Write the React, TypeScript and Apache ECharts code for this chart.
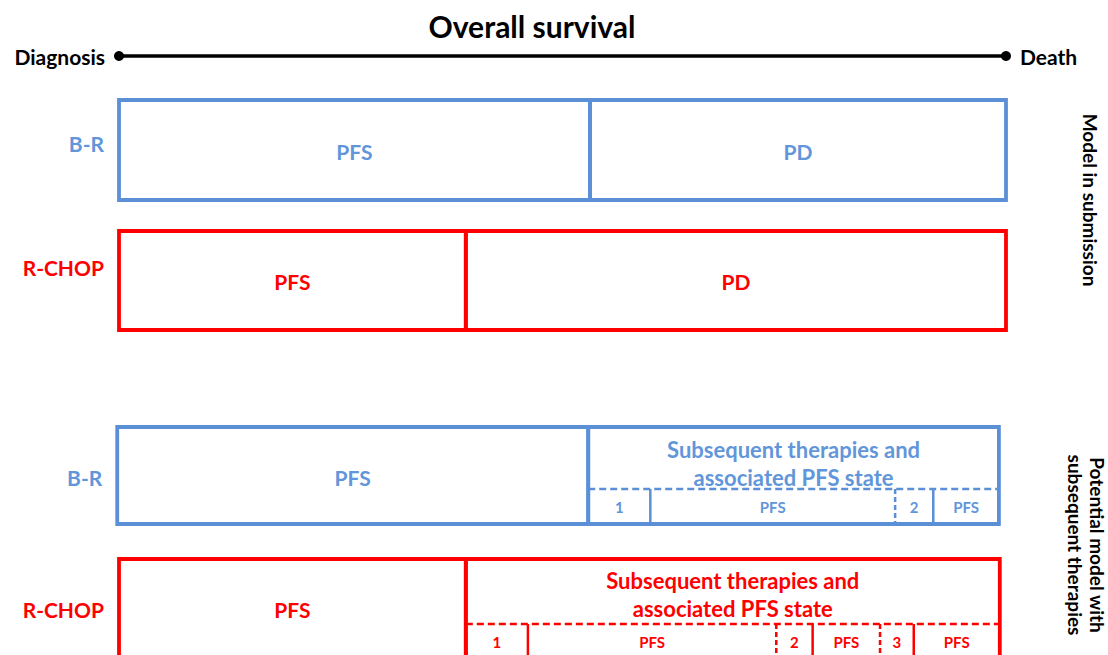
import React, { useEffect, useRef } from "react";
import * as echarts from "echarts";

// ---- data (x = % of overall survival: diagnosis = 0, death = 100) ----
const timelineEnds = [0, 100];
const timelineLabels = ["Diagnosis", "Death"];
const chartTitle = "Overall survival";
const panelTitles = ["Model in submission", "Potential model with\nsubsequent therapies"];

const armNames = ["B-R", "R-CHOP", "B-R", "R-CHOP"];

const modelBRBounds = [0, 53.1, 100];
const modelBRStates = ["PFS", "PD"];
const modelRCHOPBounds = [0, 39.1, 100];
const modelRCHOPStates = ["PFS", "PD"];

const potBRBounds = [-0.2, 52.9, 99.2];
const potBRStates = ["PFS", "Subsequent therapies and\nassociated PFS state"];
const potRCHOPBounds = [0, 39.1, 99.3];
const potRCHOPStates = ["PFS", "Subsequent therapies and\nassociated PFS state"];

const subBRBounds = [52.9, 59.9, 87.5, 91.8, 99.2];
const subBRLabels = ["1", "PFS", "2", "PFS"];
const subBRDividers = ["none", "solid", "dashed", "solid"];
const subRCHOPBounds = [39.1, 46.1, 74.1, 78.2, 85.8, 89.6, 99.3];
const subRCHOPLabels = ["1", "PFS", "2", "PFS", "3", "PFS"];
const subRCHOPDividers = ["none", "solid", "dashed", "solid", "dashed", "solid"];

// ---- styles / layout ----
const BLUE = "#5b8fd6";
const BLUE_TEXT = "#6296da";
const RED = "#ff0000";
const FONT = "Lato, 'Open Sans', sans-serif";

const rows = [
  { top: 100, bottom: 200, color: BLUE, text: BLUE_TEXT, armY: 143, stateY: 151 },
  { top: 231, bottom: 330, color: RED, text: RED, armY: 267, stateY: 281 },
  { top: 427, bottom: 524, color: BLUE, text: BLUE_TEXT, armY: 477, stateY: 477, subTop: 489, subTextY: 463, cellY: 507 },
  { top: 559, bottom: 700, color: RED, text: RED, armY: 609, stateY: 609, subTop: 624, subTextY: 594, cellY: 642 },
];

type Cell = {
  row: number;
  from: number;
  to: number;
  label: string;
  kind: "state" | "sub";
  first?: boolean;
  divider?: string;
};

function buildCells(): Cell[] {
  const cells: Cell[] = [];
  const stateDefs: [number[], string[]][] = [
    [modelBRBounds, modelBRStates],
    [modelRCHOPBounds, modelRCHOPStates],
    [potBRBounds, potBRStates],
    [potRCHOPBounds, potRCHOPStates],
  ];
  stateDefs.forEach(([b, s], row) => {
    s.forEach((label, i) => {
      cells.push({ row, from: b[i], to: b[i + 1], label, kind: "state", first: i === 0 });
    });
  });
  const subDefs: [number, number[], string[], string[]][] = [
    [2, subBRBounds, subBRLabels, subBRDividers],
    [3, subRCHOPBounds, subRCHOPLabels, subRCHOPDividers],
  ];
  subDefs.forEach(([row, b, l, d]) => {
    l.forEach((label, i) => {
      cells.push({ row, from: b[i], to: b[i + 1], label, kind: "sub", divider: d[i] });
    });
  });
  return cells;
}

export default function App() {
  const ref = useRef<HTMLDivElement>(null);
  useEffect(() => {
    document.body.style.margin = "0";
    if (!ref.current) return;
    const chart = echarts.init(ref.current, undefined, { renderer: "svg" });
    const cells = buildCells();

    const renderItem = (params: any, api: any) => {
      const c = cells[params.dataIndex];
      const r: any = rows[c.row];
      const p0 = api.coord([api.value(0), api.value(2)]);
      const p1 = api.coord([api.value(1), api.value(3)]);
      const x0 = p0[0], y0 = p0[1], x1 = p1[0], y1 = p1[1];
      const children: any[] = [];
      if (c.kind === "state") {
        children.push({
          type: "rect",
          shape: { x: x0, y: y0, width: x1 - x0, height: y1 - y0 },
          style: { fill: "none", stroke: r.color, lineWidth: 3.8 },
        });
        const isSubsequent = r.subTop !== undefined && !c.first;
        if (isSubsequent) {
          const ys = api.coord([0, r.subTop])[1];
          children.push({
            type: "line",
            shape: { x1: x0, y1: ys, x2: x1, y2: ys },
            style: { stroke: r.color, lineWidth: 2.5, lineDash: [7, 4] },
          });
          children.push({
            type: "text",
            style: {
              text: c.label, x: (x0 + x1) / 2, y: api.coord([0, r.subTextY])[1],
              fill: r.text, fontSize: 22, fontWeight: "bold", fontFamily: FONT,
              align: "center", verticalAlign: "middle", lineHeight: 28,
            },
          });
        } else {
          children.push({
            type: "text",
            style: {
              text: c.label, x: (x0 + x1) / 2, y: api.coord([0, r.stateY])[1],
              fill: r.text, fontSize: 21, fontWeight: "bold", fontFamily: FONT,
              align: "center", verticalAlign: "middle",
            },
          });
        }
        if (c.first) {
          children.push({
            type: "text",
            style: {
              text: armNames[c.row], x: x0 - 15, y: api.coord([0, r.armY])[1],
              fill: r.text, fontSize: 21, fontWeight: "bold", fontFamily: FONT,
              align: "right", verticalAlign: "middle",
            },
          });
        }
      } else {
        const ys = api.coord([0, r.subTop])[1];
        if (c.divider && c.divider !== "none") {
          children.push({
            type: "line",
            shape: { x1: x0, y1: ys, x2: x0, y2: y1 },
            style: {
              stroke: r.color, lineWidth: 2.5,
              lineDash: c.divider === "dashed" ? [5, 3] : null,
            },
          });
        }
        children.push({
          type: "text",
          style: {
            text: c.label, x: (x0 + x1) / 2, y: api.coord([0, r.cellY])[1],
            fill: r.text, fontSize: 15, fontWeight: "bold", fontFamily: FONT,
            align: "center", verticalAlign: "middle",
          },
        });
      }
      return { type: "group", children };
    };

    const option: any = {
      animation: false,
      backgroundColor: "#fff",
      title: {
        text: chartTitle,
        left: 527,
        top: 6,
        textAlign: "center",
        textStyle: { fontSize: 30, fontWeight: "bold", color: "#000", fontFamily: FONT },
      },
      grid: { left: 119, right: 102, top: 0, bottom: 0 },
      xAxis: { type: "value", min: 0, max: 100, show: false },
      yAxis: { type: "value", min: 0, max: 655, inverse: true, show: false },
      graphic: [
        {
          type: "text", x: 1090, y: 200, rotation: -Math.PI / 2,
          style: {
            text: panelTitles[0], fill: "#000", fontSize: 19, fontWeight: "bold",
            fontFamily: FONT, align: "center", verticalAlign: "middle",
          },
        },
        {
          type: "text", x: 1086, y: 545, rotation: -Math.PI / 2,
          style: {
            text: panelTitles[1], fill: "#000", fontSize: 19, fontWeight: "bold",
            fontFamily: FONT, align: "center", verticalAlign: "middle", lineHeight: 22,
          },
        },
      ],
      series: [
        {
          type: "line",
          data: timelineEnds.map((x, i) => ({
            value: [x, 56],
            label: {
              show: true,
              formatter: timelineLabels[i],
              position: i === 0 ? "left" : "right",
              distance: 9,
              color: "#000",
              fontSize: 21,
              fontWeight: "bold",
              fontFamily: FONT,
            },
          })),
          symbol: "circle",
          symbolSize: 10,
          itemStyle: { color: "#000" },
          lineStyle: { color: "#000", width: 3.5 },
          z: 5,
        },
        {
          type: "custom",
          renderItem,
          encode: { x: [0, 1], y: [2, 3] },
          data: cells.map((c) => [c.from, c.to, rows[c.row].top, rows[c.row].bottom]),
          z: 3,
        },
      ],
    };
    chart.setOption(option);
    return () => chart.dispose();
  }, []);
  return <div ref={ref} style={{ width: 1108, height: 655 }} />;
}
